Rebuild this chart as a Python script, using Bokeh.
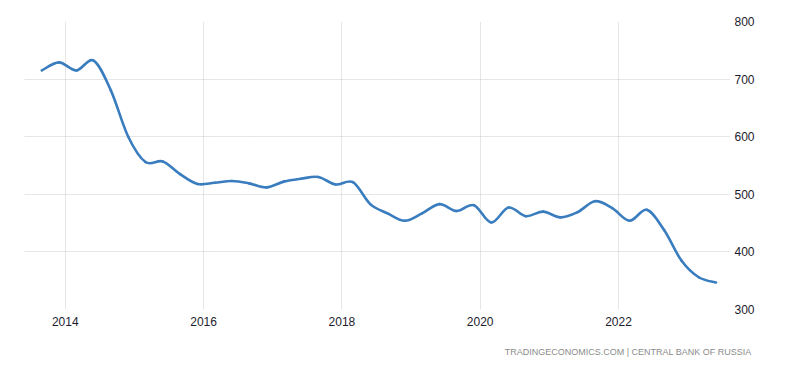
from bokeh.plotting import figure
from bokeh.models import Range1d, FixedTicker, Title, CustomJSTickFormatter
from bokeh.embed import file_html
from bokeh.resources import INLINE

# quarterly observations (decimal year)
years = [2013.66 + 0.25 * k for k in range(40)]
values = [715, 729, 715, 732, 680, 600, 556, 557, 535, 518,
          520, 523, 519, 512, 522, 527, 530, 517, 521, 483,
          467, 454, 467, 483, 471, 481, 451, 477, 462, 470,
          460, 469, 488, 476, 454, 473, 438, 385, 356, 347]
x_ticks = [2014, 2016, 2018, 2020, 2022]
y_ticks = [300, 400, 500, 600, 700, 800]
source_text = "TRADINGECONOMICS.COM  |  CENTRAL BANK OF RUSSIA"

p = figure(width=795, height=372, output_backend="svg", toolbar_location=None,
           x_range=Range1d(2013.41, 2023.62), y_range=Range1d(300, 800),
           x_axis_location="below", y_axis_location="right",
           min_border_left=24, min_border_top=21, min_border_right=65, min_border_bottom=62)
p.outline_line_color = None
p.background_fill_color = "white"
p.border_fill_color = "white"

# smooth curve through the data points (Catmull-Rom as cubic Bezier segments)
n = len(years)
x0, y0, x1, y1, cx0, cy0, cx1, cy1 = [], [], [], [], [], [], [], []
for i in range(n - 1):
    pa = (years[max(i - 1, 0)], values[max(i - 1, 0)])
    pb = (years[i], values[i])
    pc = (years[i + 1], values[i + 1])
    pd = (years[min(i + 2, n - 1)], values[min(i + 2, n - 1)])
    x0.append(pb[0]); y0.append(pb[1]); x1.append(pc[0]); y1.append(pc[1])
    cx0.append(pb[0] + (pc[0] - pa[0]) / 6); cy0.append(pb[1] + (pc[1] - pa[1]) / 6)
    cx1.append(pc[0] - (pd[0] - pb[0]) / 6); cy1.append(pc[1] - (pd[1] - pb[1]) / 6)
p.bezier(x0=x0, y0=y0, x1=x1, y1=y1, cx0=cx0, cy0=cy0, cx1=cx1, cy1=cy1,
         line_color="#3a7dbf", line_width=2.6, line_cap="round")

for ax in (p.xaxis[0], p.yaxis[0]):
    ax.axis_line_color = None
    ax.major_tick_line_color = None
    ax.minor_tick_line_color = None
    ax.major_label_text_font = "Liberation Sans"
    ax.major_label_text_font_size = "12px"
    ax.major_label_text_color = "#1c1c2e"
    ax.major_tick_out = 0
    ax.major_tick_in = 0
p.xaxis[0].ticker = FixedTicker(ticks=x_ticks)
p.xaxis[0].major_label_standoff = 7
p.xaxis[0].formatter = CustomJSTickFormatter(code="return String(Math.round(tick));")
p.yaxis[0].ticker = FixedTicker(ticks=y_ticks)
p.yaxis[0].major_label_standoff = 4

for g in (p.xgrid[0], p.ygrid[0]):
    g.grid_line_color = "#cccccc"
    g.grid_line_dash = "1 1"
    g.grid_line_width = 1
p.xgrid[0].ticker = FixedTicker(ticks=x_ticks)
p.ygrid[0].ticker = FixedTicker(ticks=y_ticks)

p.add_layout(Title(text=source_text, align="right", offset=-26, standoff=32,
                   text_font="Liberation Sans", text_font_size="9px",
                   text_font_style="normal", text_color="#8c8c8c"), "below")

open("out.html", "w").write(file_html(p, INLINE))
